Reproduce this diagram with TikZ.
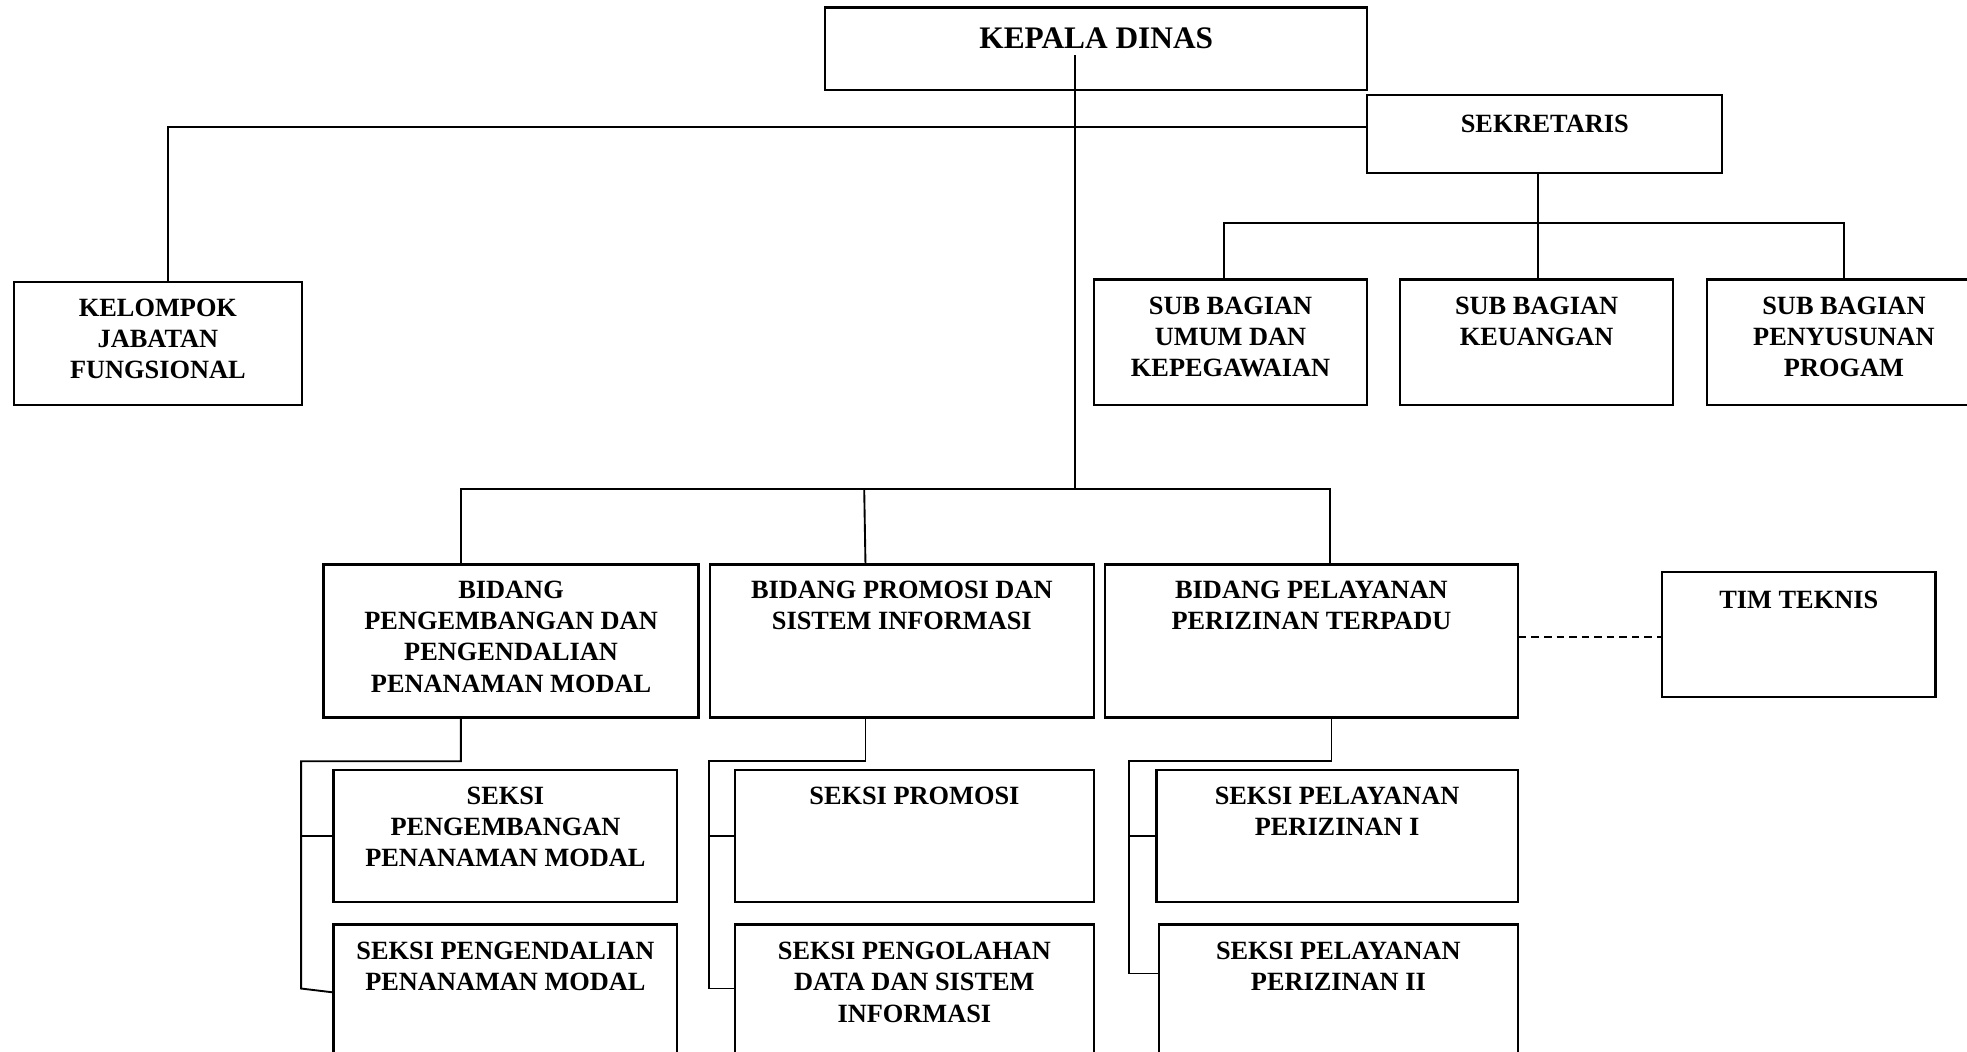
\documentclass[tikz,border=0pt]{standalone}
\usepackage{fontspec}
\setmainfont{Liberation Serif}
\usetikzlibrary{calc}
\newcommand{\unittext}[4]{\parbox[c][#2][t]{#1}{\centering\vspace*{#3}\strut#4\par}}

\begin{document}
\begin{tikzpicture}[x=1pt, y=-1pt,
  font=\fontsize{21}{25}\selectfont\bfseries,
  orgunit/.style={draw, line width=1.8pt, inner sep=0pt, anchor=north west},
  link/.style={line width=1.5pt},
  dotlink/.style={link, dash pattern=on 6pt off 4pt}]
  \clip (0,0) rectangle (1568,838);
  % pimpinan dan sekretariat
  \node[orgunit, font=\fontsize{25}{30}\selectfont\bfseries] (kd) at (657,5)
        {\unittext{432pt}{66pt}{12pt}{KEPALA DINAS}};
  \node[orgunit] (sek) at (1089,75) {\unittext{283pt}{62pt}{12.5pt}{SEKRETARIS}};
  \node[orgunit] (kjf) at (10,224)
        {\unittext{230pt}{98pt}{9.5pt}{KELOMPOK\\JABATAN\\FUNGSIONAL}};
  \node[orgunit] (sbu) at (871,222)
        {\unittext{218pt}{100pt}{10pt}{SUB BAGIAN\\UMUM DAN\\KEPEGAWAIAN}};
  \node[orgunit] (sbk) at (1115,222)
        {\unittext{218pt}{100pt}{10pt}{SUB BAGIAN\\KEUANGAN}};
  \node[orgunit] (sbp) at (1360,222)
        {\unittext{218pt}{100pt}{10pt}{SUB BAGIAN\\PENYUSUNAN\\PROGAM}};
  % bidang
  \node[orgunit] (bpp) at (257,449)
        {\unittext{299pt}{122pt}{9.5pt}{BIDANG\\PENGEMBANGAN DAN\\PENGENDALIAN\\PENANAMAN MODAL}};
  \node[orgunit] (bps) at (565,449)
        {\unittext{306pt}{122pt}{9.5pt}{BIDANG PROMOSI DAN\\SISTEM INFORMASI}};
  \node[orgunit] (bpl) at (880,449)
        {\unittext{329pt}{122pt}{9.5pt}{BIDANG PELAYANAN\\PERIZINAN TERPADU}};
  \node[orgunit] (tim) at (1324,455) {\unittext{218pt}{100pt}{11.5pt}{TIM TEKNIS}};
  % seksi
  \node[orgunit] (s11) at (265,613)
        {\unittext{274pt}{105pt}{9.5pt}{SEKSI\\PENGEMBANGAN\\PENANAMAN MODAL}};
  \node[orgunit] (s12) at (265,736)
        {\unittext{274pt}{130pt}{10.5pt}{SEKSI PENGENDALIAN\\PENANAMAN MODAL}};
  \node[orgunit] (s21) at (585,613) {\unittext{286pt}{105pt}{10pt}{SEKSI PROMOSI}};
  \node[orgunit] (s22) at (585,736)
        {\unittext{286pt}{130pt}{10.5pt}{SEKSI PENGOLAHAN\\DATA DAN SISTEM\\INFORMASI}};
  \node[orgunit] (s31) at (921,613)
        {\unittext{288pt}{105pt}{10pt}{SEKSI PELAYANAN\\PERIZINAN I}};
  \node[orgunit] (s32) at (923,736)
        {\unittext{286pt}{130pt}{10.5pt}{SEKSI PELAYANAN\\PERIZINAN II}};

  % garis komando
  \coordinate (kdtap) at (857,44);
  \coordinate (bidrow) at (857,390);
  \coordinate (sekrow) at (1089,101);
  \coordinate (subrow) at (1226,178);
  \draw[link] (kdtap) -- (bidrow);
  \draw[link] ([xshift=8pt]kjf.north) |- (sekrow);
  \draw[link] (sek.south -| subrow) -- (subrow);
  \draw[link] ([xshift=-5pt]sbu.north) |- (subrow) -| (sbp.north);
  \draw[link] (subrow) -- (subrow |- sbk.north);
  \draw[link] ([xshift=-40pt]bpp.north) |- (bidrow) -| ([xshift=15pt]bpl.north);
  \draw[link] ([xshift=-29pt]bps.north) -- +(-1,-59);
  % bidang ke seksi
  \coordinate (spine1) at (240,788);
  \coordinate (spine2) at (565,788);
  \coordinate (spine3) at (900,776);
  \draw[link] ([xshift=-40pt]bpp.south) -- ++(0,34) -| (spine1) -- ++(25,3);
  \draw[link] (s11.west) -- (s11.west -| spine1);
  \draw[link] ([xshift=-29pt]bps.south) -- ++(0,34) -| (spine2) -- (spine2 -| s22.west);
  \draw[link] (s21.west) -- (s21.west -| spine2);
  \draw[link] ([xshift=16pt]bpl.south) -- ++(0,34) -| (spine3) -- (spine3 -| s32.west);
  \draw[link] (s31.west) -- (s31.west -| spine3);
  % garis koordinasi
  \draw[dotlink] ([yshift=3pt]bpl.east) -- ([yshift=3pt]bpl.east -| tim.west);
\end{tikzpicture}
\end{document}
